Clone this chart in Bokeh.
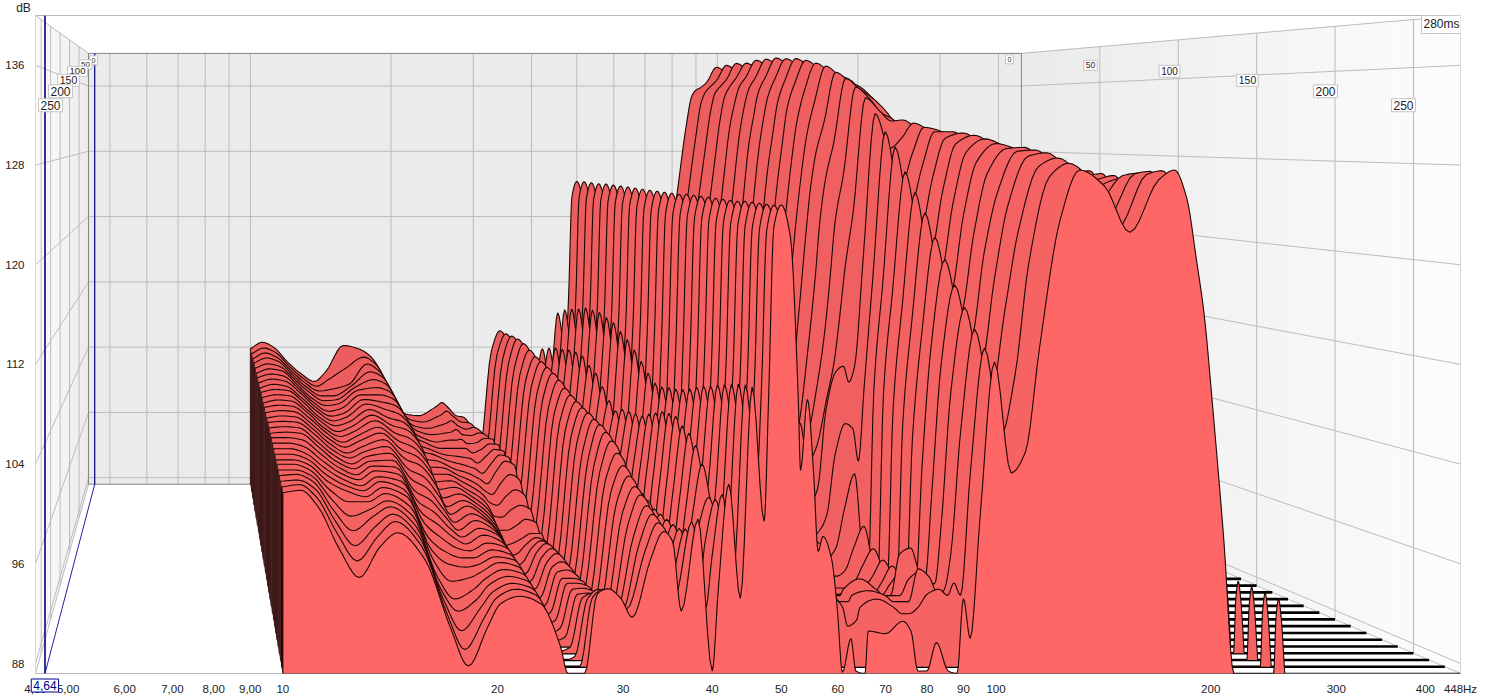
import numpy as np
from bokeh.plotting import figure
from bokeh.models import Range1d, FixedTicker, Label
from bokeh.embed import file_html
from bokeh.resources import INLINE

TIMES_MS = [0,10,20,30,40,50,60,70,80,90,100,110,120,130,140,150,160,170,180,190,200,210,220,230,240,250,260,270,280]
FREQS = [10,10.6,11.2,12,12.8,13.7,14.5,15.8,17.2,18.2,19.4,20.2,21.5,23,24.5,25.1,25.7,26.5,27.6,28.6,29.8,30.9,32.8,34.2,35.2,36.2,38.2,40,40.8,42.2,43.8,45.5,47.3,48,48.8,50,51.5,
         52.8,53.2,54.4,55.5,56.3,57.2,58.8,59.9,60.9,62.6,63.6,65.5,66.2,70,74,76,77.7,80,82.5,85.7,88.2,
         90,92,95,99.5,105,110,115,123,131,142,154,169,178,185,191,196,200.7,208.6,215.5]
# dB against time (0..280 ms) at each frequency of FREQS
d10_0=[103.8,103.7,103.6,103.6,103.5,103.4,103.4,103.3,103.2,103.2,103.1,103,103,102.9,102.8,102.8,102.7,102.6,102.6,102.5,102.4,102.3,102.2,102.2,102.1,102,101.9,101.8,101.7]
d10_6=[104.6,104.4,104.3,104.2,104,103.9,103.8,103.7,103.6,103.5,103.4,103.3,103.2,103.1,103,102.9,102.8,102.7,102.6,102.5,102.4,102.3,102.2,102.2,102.1,102.1,102,102,101.9]
d11_2=[104,103.9,103.8,103.8,103.7,103.7,103.6,103.5,103.4,103.4,103.3,103.2,103.1,103,102.9,102.8,102.7,102.6,102.4,102.2,102,101.9,101.8,101.7,101.6,101.5,101.3,101,100.6]
d12_0=[102.2,102.2,102.2,102.2,102.2,102.2,102.2,102.2,102.1,102.1,102,102,101.9,101.8,101.7,101.6,101.4,101.3,101.1,100.9,100.7,100.5,100.3,100,99.6,99.1,98.6,98,97.2]
d12_8=[100.8,100.8,100.8,100.8,100.8,100.7,100.7,100.7,100.7,100.6,100.6,100.5,100.5,100.4,100.3,100.2,100.1,100,99.9,99.8,99.7,99.6,99.5,99,98.2,97.4,96.6,95.8,94.9]
d13_7=[99.8,99.8,99.8,99.8,99.8,99.8,99.7,99.7,99.7,99.7,99.6,99.6,99.5,99.5,99.4,99.4,99.3,99.3,99.2,99.2,99.1,99.1,99,99,98.8,98.6,98.2,97.8,97.4]
d14_5=[101,100.6,100,99.8,99.9,100,100,100,100.1,100.1,100.1,100.1,100.1,100.1,100,100,100,100,100,100,99.9,99.9,99.8,99.7,99.5,99.4,99.2,99,98.5]
d15_8=[104.2,102,100.6,101,101.3,101.5,101.5,101.5,101.5,101.4,101.3,101.2,101,100.9,100.7,100.5,100.3,100.1,99.9,99.7,99.5,99.2,99,98.6,98.2,97.8,97.4,97,96.4]
d17_2=[103.7,103.3,103,102.6,102.2,101.8,101.5,101.2,100.9,100.5,100.2,99.9,99.6,99.2,98.8,98.3,97.8,97.2,96.7,96.2,95.7,95,94.4,93.8,93,92.5,92,91.4,90.8]
d18_2=[102.7,102.5,102.2,102,101.7,101.4,101.1,100.8,100.4,100.1,99.8,99.4,99,98.6,98.2,97.6,97,96.4,95.8,95.2,94.5,93.8,93.2,92.2,91.2,90.7,89.6,88.6,87.8]
d19_4=[100,99.8,99.6,99.4,99.2,99,98.8,98.7,98.5,98.2,98,97.6,97.2,96.7,96.2,95.6,95,94.6,94.2,93.9,93.5,93.2,92.9,92.5,92,91.7,91.5,91.2,91]
d20_2=[98,97.7,97.4,97.1,96.8,96.5,96.2,96,95.7,95.4,95.2,95,94.8,94.5,94.2,94,93.8,93.6,93.5,93.4,93.3,93.2,93.1,93,92.9,92.9,92.8,92.8,92.8]
d21_5=[95.8,95.8,95.7,95.7,95.6,95.6,95.5,95.5,95.4,95.3,95.2,95.1,95,94.9,94.8,94.8,94.6,94.5,94.3,94.2,94,93.9,93.8,93.8,93.7,93.6,93.5,93.5,93.4]
d23_0=[95.6,95.5,95.4,95.3,95.1,95,94.9,94.8,94.6,94.5,94.4,94.2,94.1,94,93.9,93.8,93.8,93.7,93.7,93.6,93.6,93.5,93.5,93.4,93.3,93.2,93.1,93,92.8]
d24_5=[96.4,96.1,95.8,95.5,95.3,95,94.7,94.4,94.1,93.8,93.5,93.2,92.9,92.6,92.3,92,91.7,91.5,91.2,91,90.8,90.6,90.4,90.2,90,89.8,89.7,89.5,89.4]
d25_1=[96.8,96.4,96,95.6,95.3,95,94.6,94.2,93.8,93.4,93,92.5,92,91.6,91.2,90.8,90.4,90.1,89.8,89.5,89.2,89,88.8,88.5,88.2,87.8,87.3,87.2,87.2]
d25_7=[97.2,96.8,96.3,95.9,95.4,95,94.5,94,93.5,92.9,92.3,91.5,90.7,89.8,89.4,89.1,88.8,88.6,88.5,88.3,88.2,88.1,88,87.8,87.7,87.4,87.2,87.2,87.2]
d26_5=[96.6,96.2,95.7,95.3,94.9,94.5,94,93.5,93,92.5,92,91.4,90.7,90,89.6,89.3,89,88.9,88.8,88.6,88.5,88.4,88.3,88.2,88,87.7,87.5,87.2,87.2]
d27_6=[95.6,95.5,95.3,95.2,95,94.9,94.8,94.6,94.4,93.8,93,92.2,91.2,90.5,90.6,90.8,91,91.1,91.2,91.3,91.4,91.4,91.5,91.5,91.6,91.8,92.2,92.8,93.6]
d28_6=[95.4,95.4,95.5,95.5,95.5,95.5,95.5,95.5,95.4,94.6,93.6,92.6,91.8,91,91.2,91.5,91.8,91.9,92,91.8,91.6,91.4,91.5,91.6,91.7,92.2,93,93.5,94]
d29_8=[94,94.4,94.8,95.1,95.4,95.4,95.3,95.2,95,94,93,92.2,91.5,91,90.8,90.9,91,91,91,91,91,91.1,91.2,91.3,91.5,91.8,92.3,92.8,93.2]
d30_9=[91,91,91,91,90.8,90.8,90.6,90.4,90,89.7,89.4,89,88.8,88.5,88.5,88.6,88.8,88.8,89,89,89,89.2,89.4,89.6,90,90.5,91,91.9,91.7]
d32_8=[103.5,103.6,103.6,103.5,103.4,103.2,103,102.8,102.6,102.4,102,101.8,101.5,101.2,101,100.8,100.4,100.2,100,99.8,99.5,99,98.5,98,97.5,97,96.8,96.6,96.4]
d34_2=[106,106.1,106.3,106.4,106.3,106,105.7,105.6,105.4,105.2,104.9,104.5,104.2,104,103.8,103.7,103.5,103.4,103.1,102.7,102,101.3,100.8,100.3,100,99.5,99.2,98.9,98.6]
d35_2=[105.2,105.3,105.5,105.6,105.5,105.2,104.9,104.8,104.6,104.4,104.1,103.7,103.4,103.2,103,102.9,102.7,102.6,102.3,101.9,101.2,100.5,100,99.5,99.2,98.7,98.4,98.1,97.8]
d36_2=[97.5,97.6,97.8,97.9,97.8,97.6,97.4,97.2,97,96.9,96.6,96.3,96,95.8,95.6,95.5,95.3,95.2,95,94.8,94.6,94.4,94.2,94,93.8,93.6,93.4,93,92.2]
d38_2=[100,100.2,100.5,100.5,100.5,100.4,100.2,100,100,99.8,99.6,99.5,99.2,99,98.8,98.6,98.6,98.4,98.2,98,97.8,97.5,97.5,97.5,97.5,97.6,98,99,99.6]
d40_0=[96,96,96,96,96,96,96,96,96,96,95.8,95.8,95.8,95.6,95.6,95.6,95.6,95.5,95.5,95.5,95.4,95.4,95.2,95,94.8,94.4,93.6,92,87.4]
d40_8=[99,99.2,99.4,99.5,99.6,99.6,99.6,99.5,99.4,99.2,99,98.8,98.8,98.8,98.8,98.8,98.9,99,99,99,99,98.8,98.6,98.4,98.2,97.8,97,96,94]
d42_2=[103.8,104.4,104.9,105.2,105.6,105.8,105.8,105.2,104.8,103.8,102.8,102.2,102.8,103,103.2,103.4,104,104.5,105,105.2,105.3,104.8,104.5,103.8,102.6,100.2,100.4,101.2,102.4]
d43_8=[99.5,100,100.4,100.6,100.8,101,101,100.6,100.4,99.8,99.2,98.8,99,99.2,99.4,99.6,100,100.4,100.8,101,101,100.6,100.4,99.8,99,97.8,97,95,93.2]
d45_5=[108.2,109,109.5,109.9,110.4,110.5,110.6,110.4,110.2,109.6,109.1,108.4,107.6,106.8,106.2,106.2,106.5,106.7,107,107.4,107.9,108.3,108.6,109,109.3,109.6,109.9,110.1,110.2]
d47_3=[103.5,104,104.5,105,105.5,105.5,105.6,105.4,105.2,104.6,104,103.5,103,102.5,102,102,102.2,102.4,102.6,103,103.4,103.8,104,104.2,104.4,104.4,104.2,103,99.4]
d48_0=[110,110,110,110,110,110,110,110,110,110,110,110,110,110,110,110,110,110,110,110,110,110,110,110,110,110,110,110,109.5]
d48_8=[122.4,122.5,122.5,122.5,122.6,122.6,122.6,122.6,122.6,122.6,122.6,122.6,122.6,122.6,122.6,122.6,122.6,122.6,122.6,122.6,122.6,122.6,122.6,122.6,122.6,122.6,122.6,122.6,123]
d50_0=[124.3,124.4,124.4,124.4,124.5,124.5,124.5,124.5,124.5,124.5,124.5,124.5,124.5,124.5,124.5,124.6,124.6,124.6,124.6,124.6,124.6,124.6,124.6,124.7,124.7,124.7,124.7,124.7,124.8]
d51_5=[122,122,122,122,122.1,122.1,122.1,122.1,122.1,122.1,122.1,122.1,122.1,122.1,122.1,122.2,122.2,122.2,122.2,122.2,122.2,122.2,122.2,122.2,122.2,122.2,122.2,122.2,122.2]
d52_8=[110,110,110,110,110,110,110,110,110,110,110,110,110,110,110,110,110,110,110,110,110,110,110,110,110,110,110,110,109.4]
d53_2=[107,107,107,107,107,107,107,107,107,107,107,107,107,107,107,107,107,107,107,107,107,107,107,107,107,107,107,106,103.5]
d54_4=[106,106,106,106,106,106,106,106,106,106,106,106,106,106,106,106,106,106,106,106,106,106,106,106,106,106,106,107,109.2]
d55_5=[105,105,105,105,105,105,105,105,105,105,105,105,105,105,105,105,105,105,105,105,105,105,105,105,105,105,105,104,103.2]
d56_3=[104,104,104,104,104,104,104,104,104,104,104,104,104,104,104,104,104,103,102,101,100,100,100,100,100,100,100,100,97]
d57_2=[103,103,103,103,103,103,103,103,103,103,103,103,103,103,103,103,102,100,98,97.5,97,97,97,97,97,97,97.5,97.5,98.2]
d58_8=[102,102,102,102,102,102,102,102,102,102,102,102,102,102,102,102,100,98,96,95,94.5,94,94,94,94.5,95,96,97,96.4]
d59_9=[101,101,101,101,101,101,101,101,101,101,101,101,101,101,101,101,98,96,94,93,92.5,92.5,92.5,93,93.5,94,95,95,92.4]
d60_9=[100,100,100,100,100,100,100,100,100,100,100,100,100,100,100,100,96,94,92.5,91.5,91,91,91,91.5,92,93,93.5,93,87.3]
d62_6=[99,99,99,99,99,99,99,99,99,99,99,99,99,99,99,99,95,93,91.5,90.5,90,90,90.5,91,91.5,92.5,92.5,92,90]
d63_6=[99,99,99,99,99,99,99,99,99,99,99,99,99,99,99,99,95,93,91,90.5,90,90,90.5,91,91.5,92,92,90.5,87.4]
d65_5=[99,99,99,99,99,99,99,99,99,99,99,99,99,99,99,99,95,93,91,90.5,90,90,90.5,91,91.5,92,92,91,87.2]
d66_2=[99,99,99,99,99,99,99,99,99,99,99,99,99,99,99,99,95,93,91,90.5,90,90,90.5,91,91.5,92.5,92.5,92,90.6]
d70_0=[104,104,103.5,103.5,103,103,102.5,102.5,102,102,101.5,101,101,100.5,100,99.6,95,93,91,90.5,90,90,90.5,91,92,93.4,92.9,92.7,90.4]
d74_0=[103,103,103,103,103,102.5,102.5,102,102,101.5,101,100.5,100.5,100,99.5,99,95,93,91,90.5,90,90,90.5,91,92,92.5,92.5,92,91.4]
d76_0=[103,103,103,103,103,102.5,102.5,102,102,101.5,101,100.5,100,99.5,99,98.5,95,93,91,90.5,90,90,90.5,91,92,92,92,91.5,90.6]
d77_7=[105,105,105,105,104.5,104,104,103.5,103,102,101,100.5,100,99.5,99,98.5,95.5,93.5,91.5,90.5,90,90,90.5,91,91.5,92,92,91.5,87.4]
d80_0=[118,117,115,113,111,109,108,107,106,105,103,101,100,99.5,99.5,99,97,95,92.5,91,90.5,90.5,90.5,91,91.5,92,92,92,87.4]
d82_5=[124,122.5,121,119,116.5,114.5,113,111.5,110,109,107,105,103,101.5,101,100.5,104.3,100.6,96,93,92,91.5,91.5,92,95,93.4,94.7,93.1,89.7]
d85_7=[131,129.5,128,126.5,125,123.5,122,121,119.5,118,116,114,112,109,106,105,108,103.5,99.3,95,93.5,93,93,93,95.5,94,94,93.5,87.4]
d88_2=[134.8,134,133,132,131,130,129,128,126.5,125,123,121.5,120,116,111,108.5,108.5,103,92,92,92,92,92,92.5,93.5,93,92.5,93,87.2]
d90_0=[135.5,135.2,135,134.5,133.5,133,132,131.5,130,129,127.5,126,125,122,116,112.5,107,100,89.5,89.6,90,90,91,92,93,93,93,94,93.2]
d92_0=[135.8,135.8,135.7,135.6,135.5,135.2,134.8,134.3,133.6,133,131.5,130,128.5,126,122,117.5,108.5,107,107,107,106,105,104,102,100,98,96,93,90]
d95_0=[136.5,136.6,136.6,136.7,136.7,136.6,136.5,136.3,136,135.6,134.8,133.5,131.5,129.5,126.5,123,118.5,117,116.5,116,115,114,113,112.5,111,109,106,103,99.8]
d99_5=[138.3,138.4,138.5,138.4,138.6,138.6,138.6,138.4,138.3,138,137.6,137.2,136.5,135.8,134.9,133.8,132.3,130.6,129.2,127,125.2,123.5,121.5,119.7,117.7,116,114.4,113.1,112.2]
d105=[137.5,137.6,137.7,137.7,137.8,137.8,137.8,137.6,137.5,137.2,136.8,136.3,135.6,134.8,133.8,132.6,129,125,123.5,121.5,119.5,118,116.5,115,113,111,109,106,103.3]
d110=[136.6,136.7,136.8,136.8,136.9,136.9,136.9,136.8,136.7,136.5,136.2,135.8,135,134,132.4,131.6,130,128.5,127.5,126.5,125.5,124.5,123.5,122,120.5,118.5,116,111,105]
d115=[135.5,135.6,135.7,135.7,135.8,135.8,135.8,135.7,135.6,135.4,135,134.6,134,133,131.8,131.7,131.4,131,130.6,130,129.5,128.8,128,127,125.5,124.5,122.5,120,113.2]
d123=[133,133,133,133,133,133,133,133,133,133,132.8,132.5,132,131,130,130.4,130.5,130.6,130.6,130.5,130.3,130,129.6,129.2,129,128.6,127.8,127,123.6]
d131=[131,131,131,131,131,131,131,131,131,131,131,130.5,130,129.5,129,129.2,129.3,129.4,129.5,129.5,129.5,129.4,129.2,129.3,129.1,128.9,128.5,128.1,127.6]
d142=[129,129,129,129,129,129,129,129,129,129,129,129,129,129,129,128.8,128.5,128,128,128,128,127.8,127.6,127.4,127.2,127,126.8,126.5,126.3]
d154=[128,128,128,128,128,128,128,128,128,128,128,128,128,128,128,127.8,127.6,127.4,127.2,127.1,127,126.8,126.5,126,125.5,124.5,123.5,122.9,122.6]
d169=[127,127,127,127,127,127,127,127,127,127,127,127,127,127,127,127,127,127,127,127,127,127,126.8,126.6,126.5,127,127.2,127.2,126.8]
d178=[127.5,127.5,127.5,127.5,127.5,127.5,127.5,127.5,127.5,127.5,127.5,127.5,127.5,127.5,127.5,127.5,127.5,127.5,127.5,127.4,127.3,127.2,127,126.9,126.8,127.2,127.4,127.5,127.6]
d185=[125.5,125.5,125.5,125.5,125.5,125.5,125.5,125.5,125.5,125.5,125.5,125.5,125.5,125.5,125.5,125.5,125.5,125.5,125.5,125.5,125.5,125.5,125.5,125.5,125.5,125.5,125.5,125.5,125.4]
d191=[120.4,120.4,120.4,120.4,120.4,120.4,120.4,120.4,120.4,120.4,120.4,120.4,120.4,120.4,120.4,120.4,120.4,120.4,120.4,120.4,120.4,120.4,120.4,120.4,120.4,120.4,120.4,120.4,120.4]
d196=[115.8,115.8,115.8,115.8,115.8,115.8,115.8,115.8,115.8,115.8,115.8,115.8,115.8,115.8,115.8,115.8,115.8,115.8,115.8,115.8,115.8,115.8,115.8,115.8,115.8,115.8,115.8,115.8,115.8]
d201=[109.4,109.4,109.4,109.4,109.4,109.4,109.4,109.4,109.4,109.4,109.4,109.4,109.4,109.4,109.4,109.4,109.4,109.4,109.4,109.4,109.4,109.4,109.4,109.4,109.4,109.4,109.4,109.4,109.4]
d209=[98,98,98,98,98,98,98,98,98,98,98,98,98,98,98,98,98,98,98,98,98,98,98,98,98,98,98,98,98]
d215=[87.2,87.2,87.2,87.2,87.2,87.2,87.2,87.2,87.2,87.2,87.2,87.2,87.2,87.2,87.2,87.2,87.2,87.2,87.2,87.2,87.2,87.2,87.2,87.2,87.2,87.2,87.2,87.2,87.2]
COLUMNS=[d10_0,d10_6,d11_2,d12_0,d12_8,d13_7,d14_5,d15_8,d17_2,d18_2,d19_4,d20_2,d21_5,d23_0,d24_5,d25_1,d25_7,d26_5,d27_6,d28_6,d29_8,d30_9,d32_8,d34_2,d35_2,d36_2,d38_2,d40_0,d40_8,d42_2,d43_8,d45_5,d47_3,d48_0,d48_8,d50_0,d51_5,
 d52_8,d53_2,d54_4,d55_5,d56_3,d57_2,d58_8,d59_9,d60_9,d62_6,d63_6,d65_5,d66_2,d70_0,d74_0,d76_0,d77_7,d80_0,d82_5,d85_7,d88_2,
 d90_0,d92_0,d95_0,d99_5,d105,d110,d115,d123,d131,d142,d154,d169,d178,d185,d191,d196,d201,d209,d215]
SPIKE_HZ=[245,247,249,251,254]
SPIKE_DB=[87.2,91.8,93.2,91.8,87.2]
FLOOR_DB=87.2
TOP_DB=140.0
F_MIN,F_MAX=4.5,448.0
DB_TICKS=[88,96,104,112,120,128,136]
HZ_TICKS=[4.5,5,6,7,8,9,10,20,30,40,50,60,70,80,90,100,200,300,400,448]
HZ_LABELS={4.5:"4,50",5:"5,00",6:"6,00",7:"7,00",8:"8,00",9:"9,00",10:"10",20:"20",30:"30",40:"40",50:"50",60:"60",70:"70",80:"80",90:"90",100:"100",200:"200",300:"300",400:"400",448:"448Hz"}
GRID_HZ=[5,6,7,8,9,10,20,30,40,50,60,70,80,90,100,200,300,400]
GRID_MS=[50,100,150,200,250]
CURSOR_HZ=4.64
RIGHT_LABELS=[("0",1009,59,7),("50",1090,65,8.5),("100",1169,71,10),("150",1247,80,10.5),("200",1325,91,12),("250",1403,105,12),("280ms",1441,24,12)]
LEFT_LABELS=[("0",93,60,7),("50",85,64,8),("100",77,71,9.5),("150",68,80,10.5),("200",60,91,12),("250",50,105,12)]

DEC=np.log10(F_MAX/F_MIN)
SPAN=TOP_DB-FLOOR_DB
def proj(f,db,t):
    f=np.asarray(f,float); db=np.asarray(db,float)
    tau=t/280.0; s=0.6547+0.3453*tau
    fx=0.0372*(1-tau)+np.log10(f/F_MIN)/DEC*s
    fy=0.0576*(1-tau)+(TOP_DB-db)/SPAN*s
    return F_MIN*10**(DEC*fx), TOP_DB-SPAN*fy
def sx(X): return F_MIN*10**(DEC*(X-35)/1425.0)
def sy(Y): return TOP_DB-SPAN*(Y-15)/660.0

def pchip(x,y,n=6):
    x=np.asarray(x,float); y=np.asarray(y,float)
    h=np.diff(x); d=np.diff(y)/h; m=np.zeros_like(y)
    m[0]=d[0]; m[-1]=d[-1]
    for k in range(1,len(x)-1):
        if d[k-1]*d[k]>0:
            w1=2*h[k]+h[k-1]; w2=h[k]+2*h[k-1]
            m[k]=(w1+w2)/(w1/d[k-1]+w2/d[k])
    xs=[];ys=[]
    for k in range(len(h)):
        s=np.linspace(0,1,n,endpoint=False)
        a=(2*s**3-3*s**2+1)*y[k]+(s**3-2*s**2+s)*h[k]*m[k]+(-2*s**3+3*s**2)*y[k+1]+(s**3-s**2)*h[k]*m[k+1]
        xs.append(x[k]+s*h[k]); ys.append(a)
    xs.append([x[-1]]); ys.append([y[-1]])
    return np.concatenate(xs),np.maximum(np.concatenate(ys),FLOOR_DB)

p=figure(width=1494,height=697,output_backend="svg",toolbar_location=None,x_axis_type="log",
         x_range=Range1d(F_MIN,F_MAX),y_range=Range1d(FLOOR_DB,TOP_DB),
         min_border_left=35,min_border_right=34,min_border_top=15,min_border_bottom=22)
p.grid.visible=False
p.outline_line_color="#b8b8b8"
p.xaxis.ticker=FixedTicker(ticks=HZ_TICKS)
p.xaxis.major_label_overrides=HZ_LABELS
p.yaxis.ticker=FixedTicker(ticks=DB_TICKS)
for ax,st in ((p.xaxis,3),(p.yaxis,5)):
    ax.axis_line_color=None; ax.major_tick_line_color=None; ax.minor_tick_line_color=None
    ax.major_label_text_font="Liberation Sans"; ax.major_label_text_font_size="11.5px"
    ax.major_label_text_color="#222222"; ax.major_label_standoff=st
GRID="#bcbcbc"
EDGE="#858585"
def seg(f0,d0,t0,f1,d1,t1,color=GRID,w=1):
    a=proj(f0,d0,t0); b=proj(f1,d1,t1)
    p.line([float(a[0]),float(b[0])],[float(a[1]),float(b[1])],line_color=color,line_width=w)
def quad(pts,color,line=None,w=0.6):
    xy=[proj(*q) for q in pts]
    p.patch([float(q[0]) for q in xy],[float(q[1]) for q in xy],fill_color=color,line_color=line or color,line_width=w)
quad([(F_MIN,TOP_DB,0),(F_MAX,TOP_DB,0),(F_MAX,FLOOR_DB,0),(F_MIN,FLOOR_DB,0)],"#ebebeb")
for t0 in range(0,280,10):
    g=int(235+18*(t0+5)/280); c="#%02x%02x%02x"%(g,g,g)
    for f in (F_MIN,F_MAX):
        quad([(f,TOP_DB,t0),(f,TOP_DB,t0+10),(f,FLOOR_DB,t0+10),(f,FLOOR_DB,t0)],c)
for h in GRID_HZ:
    seg(h,FLOOR_DB,0,h,TOP_DB,0)
for d in DB_TICKS:
    seg(F_MIN,d,0,F_MAX,d,0)
    seg(F_MIN,d,0,F_MIN,d,280); seg(F_MAX,d,0,F_MAX,d,280)
for t in GRID_MS:
    seg(F_MIN,FLOOR_DB,t,F_MIN,TOP_DB,t); seg(F_MAX,FLOOR_DB,t,F_MAX,TOP_DB,t)
for f in (F_MIN,F_MAX):
    seg(f,TOP_DB,0,f,TOP_DB,280); seg(f,FLOOR_DB,0,f,FLOOR_DB,280)
seg(F_MIN,TOP_DB,0,F_MAX,TOP_DB,0,EDGE); seg(F_MIN,FLOOR_DB,0,F_MAX,FLOOR_DB,0,EDGE)
seg(F_MIN,FLOOR_DB,0,F_MIN,TOP_DB,0,EDGE); seg(F_MAX,FLOOR_DB,0,F_MAX,TOP_DB,0,EDGE)
seg(CURSOR_HZ,FLOOR_DB,0,CURSOR_HZ,TOP_DB,0,"#000080",1.2)
seg(CURSOR_HZ,TOP_DB,280,CURSOR_HZ,FLOOR_DB,280,"#000080",1.6)
seg(CURSOR_HZ,FLOOR_DB,0,CURSOR_HZ,FLOOR_DB,280,"#2020a0",1)
lf=np.log10(np.array(FREQS+SPIKE_HZ,float))
n=len(TIMES_MS)
for i,t in enumerate(TIMES_MS):
    vals=[c[i] for c in COLUMNS]+SPIKE_DB
    xs,ys=pchip(lf,vals)
    fs=10**xs
    fx,dy=proj(np.array([10.0,F_MAX]),np.array([FLOOR_DB,FLOOR_DB]),t)
    p.line([float(fx[0]),float(fx[1])],[float(dy[0]),float(dy[1])],line_color="black",line_width=2.6 if i<n-1 else 1.5)
    if i>0:
        prev=COLUMNS[0][i-1]
        col="#5e2e2e" if i%2 else "#4c2424"
        if i==n-1: col="#1a0808"
        quad([(10,FLOOR_DB,TIMES_MS[i-1]),(10,prev,TIMES_MS[i-1]),(10,vals[0],t),(10,FLOOR_DB,t)],col,col,0.3)
    X,Y=proj(fs,ys,t)
    f0,d0=proj(10.0,FLOOR_DB,t)
    if i==n-1: fill="#ff6666"
    else:
        r=236+int(10*i/27); gg=94+int(5*i/27); fill="#%02x%02x%02x"%(r,gg,gg)
    p.patch([float(f0)]+X.tolist()+[float(X[-1])],[float(d0)]+Y.tolist()+[float(d0)],fill_color=fill,line_color=None)
    p.line([float(f0)]+X.tolist(),[float(d0)]+Y.tolist(),line_color="#1c0505",line_width=1.1)
for lst in (RIGHT_LABELS,LEFT_LABELS):
    for txt,X,Y,fs_ in lst:
        p.add_layout(Label(x=float(sx(X)),y=float(sy(Y)),text=txt,text_font="Liberation Sans",text_font_size="%gpx"%fs_,
                           text_align="center",text_baseline="middle",text_color="#222222",
                           background_fill_color="#ffffff",border_line_color="#c4c4c4",padding=2))
p.add_layout(Label(x=-12,y=8,x_units="screen",y_units="screen",text="dB",text_font="Liberation Sans",text_font_size="12px",
                   text_align="center",text_baseline="middle",text_color="#222222"),"above")
p.add_layout(Label(x=-1415.6,y=-12,x_units="screen",y_units="screen",text="4,64",text_font="Liberation Sans",text_font_size="12px",
                   text_align="center",text_baseline="middle",text_color="#000090",
                   background_fill_color="#ffffff",border_line_color="#000090",padding=2),"right")
open("out.html","w").write(file_html(p,INLINE))
